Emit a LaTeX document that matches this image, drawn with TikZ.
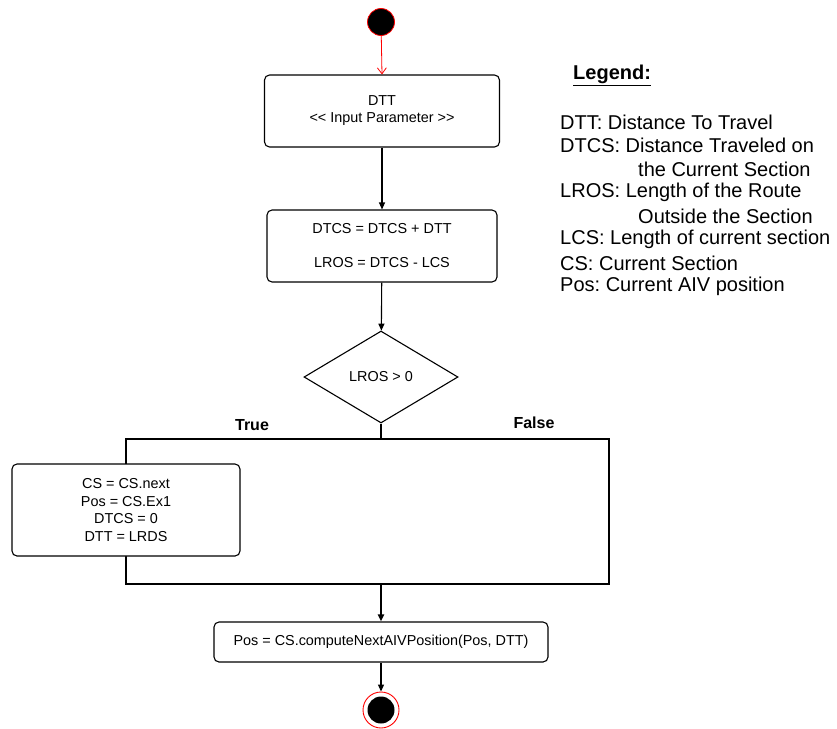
\documentclass[tikz,border=0pt]{standalone}
\usepackage{fontspec}
\setmainfont{Liberation Sans}
\frenchspacing
\usetikzlibrary{shapes.geometric,arrows.meta}
\begin{document}
\begin{tikzpicture}[x=1pt,y=-1pt,
  box/.style={draw,rounded corners=5pt,line width=1.1pt,fill=white,align=center,inner sep=0pt,font=\fontsize{14.4}{17}\selectfont},
  flow/.style={-{Triangle[length=7pt,width=6pt]},line width=1.1pt},
  leg/.style={anchor=west,inner sep=0pt,font=\fontsize{20}{23}\selectfont},
  lbl/.style={inner sep=0pt,font=\bfseries\fontsize{16}{19}\selectfont}]
\useasboundingbox (0,0) rectangle (837,728);
% start
\node[circle,draw=red,fill=black,line width=0.8pt,minimum size=27pt,inner sep=0pt] (start) at (381,22) {};
\node[box,minimum width=235pt,minimum height=72pt] (b1) at (382,111) {DTT\\{<}{<} Input Parameter {>}{>}};
\node[box,minimum width=230pt,minimum height=72pt] (b2) at (382,246) {DTCS = DTCS + DTT\\[17pt]LROS = DTCS - LCS};
\node[diamond,draw,line width=1.1pt,minimum width=154pt,minimum height=92pt,inner sep=0pt,font=\fontsize{14.4}{17}\selectfont] (d) at (381,377) {LROS > 0};
\node[draw,line width=1.1pt,minimum width=483pt,minimum height=145pt,inner sep=0pt] (grp) at (367.5,511.5) {};
\node[box,minimum width=228pt,minimum height=92pt,font=\fontsize{14.4}{17.8}\selectfont] (tbox) at (126,510) {CS = CS.next\\Pos = CS.Ex1\\DTCS = 0\\DTT = LRDS};
\node[box,minimum width=334pt,minimum height=40pt] (b4) at (381,642) {Pos = CS.computeNextAIVPosition(Pos, DTT)};
\node[circle,draw=red,fill=white,line width=0.9pt,minimum size=36pt,inner sep=0pt] (end) at (381,710) {};
\node[circle,fill=black,minimum size=27pt,inner sep=0pt] (endin) at (end.center) {};
% labels
\node[lbl] (tt) at (252,425) {True};
\node[lbl] (ff) at (534,423) {False};
% connectors
\coordinate (gtop) at (d.south |- grp.north);
\coordinate (gbot) at (b4.north |- grp.south);
\draw[red,line width=0.8pt,-{Straight Barb[length=6pt,width=9pt]}] (start) -- (b1.north);
\draw[flow] (b1) -- (b2);
\draw[flow] (b2) -- (d);
\draw[line width=1.1pt] (d.south) -- (gtop);
\draw[flow,line width=2pt] (gbot) -- (b4.north);
\draw[flow] (b4) -- (end);
% legend
\node[leg,font=\bfseries\fontsize{20}{23}\selectfont] (lg) at (573,75) {\underline{Legend:}};
\node[leg] (l1) at (560,122) {DTT: Distance To Travel};
\node[leg] (l2) at (560,145.5) {DTCS: Distance Traveled on};
\node[leg] (l3) at (638,169) {the Current Section};
\node[leg] (l4) at (560,192.5) {LROS: Length of the Route};
\node[leg] (l5) at (638,216) {Outside the Section};
\node[leg] (l6) at (560,239.5) {LCS: Length of current section};
\node[leg] (l7) at (560,263) {CS: Current Section};
\node[leg] (l8) at (560,286.5) {Pos: Current AIV position};
\end{tikzpicture}
\end{document}
